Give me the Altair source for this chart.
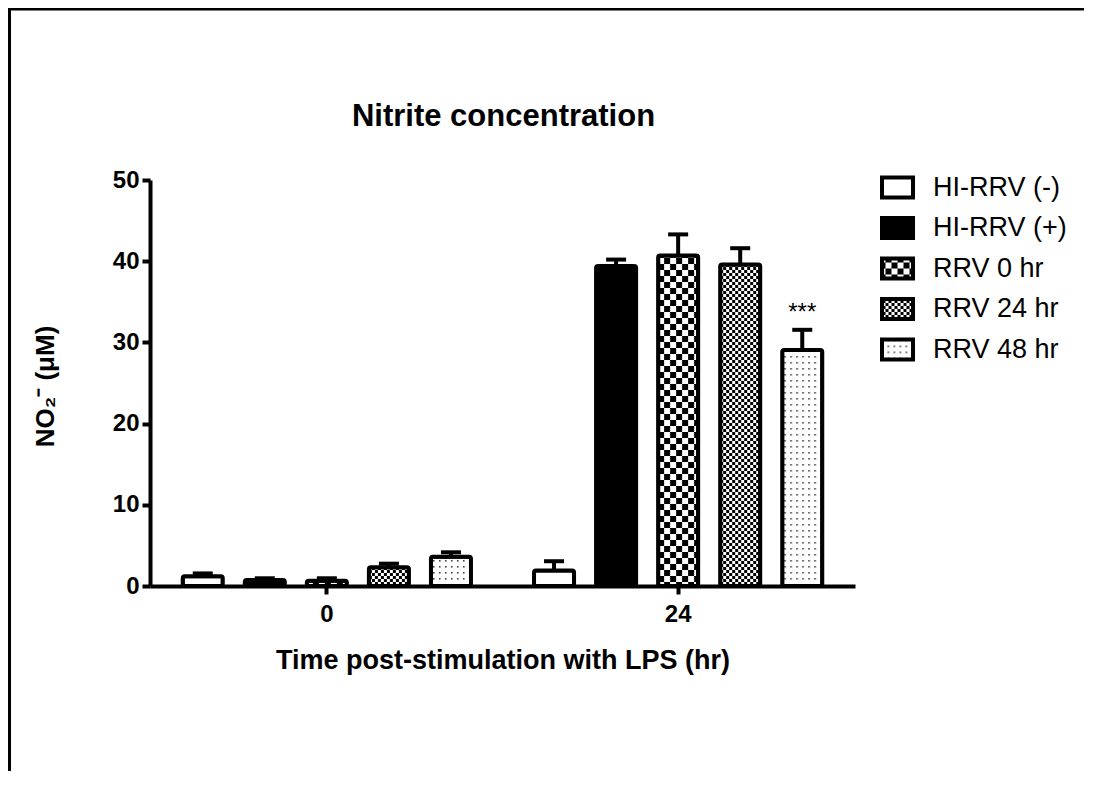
import altair as alt
import pandas as pd
import jinja2

# ---------------- data ----------------
groups = ["HI-RRV (-)", "HI-RRV (+)", "RRV 0 hr", "RRV 24 hr", "RRV 48 hr"]
times = ["0", "24"]
mean_0 = [1.2, 0.75, 0.65, 2.3, 3.6]
sem_0 = [0.35, 0.2, 0.3, 0.45, 0.55]
mean_24 = [1.9, 39.4, 40.7, 39.6, 29.05]
sem_24 = [1.15, 0.8, 2.6, 2.0, 2.5]
sig_time = ["24"]
sig_group = ["RRV 48 hr"]
sig_label = ["***"]
y_ticks = [0, 10, 20, 30, 40, 50]
fills = ["white", "black", "url(#chkBig)", "url(#chkSmall)", "url(#dots)"]
chart_title = ["Nitrite concentration"]

rows = []
for t, means, sems in [("0", mean_0, sem_0), ("24", mean_24, sem_24)]:
    for g, m, s in zip(groups, means, sems):
        rows.append({"time": t, "group": g, "mean": m, "upper": m + s})
df = pd.DataFrame(rows)
sig_df = df.merge(pd.DataFrame({"time": sig_time, "group": sig_group, "label": sig_label}),
                  on=["time", "group"])
frame_df = pd.DataFrame({"k": [0]})
title_df = pd.DataFrame({"t": chart_title})

W, H = 705, 406
FONT = "Liberation Sans"

x_enc = alt.X("time:N", sort=times,
              scale=alt.Scale(paddingInner=0.1795, paddingOuter=0.0932),
              title="Time post-stimulation with LPS (hr)")
xo_enc = alt.XOffset("group:N", sort=groups,
                     scale=alt.Scale(paddingInner=0.355, paddingOuter=0))
y_title = "NO₂⁻ (μM)"

bars = alt.Chart(df).mark_bar(stroke="black", strokeWidth=4, cornerRadius=2).encode(
    x=x_enc,
    xOffset=xo_enc,
    y=alt.Y("mean:Q", scale=alt.Scale(domain=[0, 50], nice=False),
            axis=alt.Axis(values=y_ticks), title=y_title),
    fill=alt.Fill("group:N", sort=groups,
                  scale=alt.Scale(domain=groups, range=fills),
                  legend=alt.Legend(title=None, orient="none", legendX=730, legendY=-10,
                                    symbolType="M-1,-0.645H1V0.645H-1Z",
                                    symbolSize=961, symbolStrokeColor="black",
                                    symbolStrokeWidth=4, labelFont=FONT, labelFontSize=27,
                                    labelColor="black", labelOffset=18, rowPadding=3.5,
                                    padding=0)),
)

err = alt.Chart(df).mark_rule(color="black", strokeWidth=4).encode(
    x=alt.X("time:N", sort=times, title="Time post-stimulation with LPS (hr)"),
    xOffset=alt.XOffset("group:N", sort=groups),
    y=alt.Y("mean:Q", title=y_title),
    y2="upper:Q",
)

caps = alt.Chart(df).mark_tick(color="black", thickness=4, size=20, orient="horizontal",
                               opacity=1).encode(
    x=alt.X("time:N", sort=times, title="Time post-stimulation with LPS (hr)"),
    xOffset=alt.XOffset("group:N", sort=groups),
    y=alt.Y("upper:Q", title=y_title),
)

sig = alt.Chart(sig_df).mark_text(font=FONT, fontSize=24, color="black",
                                  baseline="alphabetic", dy=-10).encode(
    x=alt.X("time:N", sort=times, title="Time post-stimulation with LPS (hr)"),
    xOffset=alt.XOffset("group:N", sort=groups),
    y=alt.Y("upper:Q", title=y_title),
    text="label:N",
)

title_mark = alt.Chart(title_df).mark_text(
    font=FONT, fontSize=31, fontWeight="bold", color="black",
    align="center", baseline="alphabetic").encode(
    x=alt.value(W / 2 + 1), y=alt.value(-54), text="t:N")

left_line = alt.Chart(frame_df).mark_rule(color="black", strokeWidth=3).encode(
    x=alt.value(-140.5), y=alt.value(-172), y2=alt.value(H + 190))
top_line = alt.Chart(frame_df).mark_rule(color="black", strokeWidth=3).encode(
    x=alt.value(-142), x2=alt.value(W + 232), y=alt.value(-171))

chart = alt.layer(bars, err, caps, sig, title_mark, left_line, top_line).properties(
    width=W, height=H,
    autosize=alt.AutoSizeParams(type="none"),
    padding={"left": 142, "top": 172, "right": 229, "bottom": 185},
).configure_view(stroke=None).configure_axis(
    domainColor="black", domainWidth=4, tickColor="black", tickWidth=4, tickSize=8,
    labelFont=FONT, labelFontSize=24, labelFontWeight="bold", labelColor="black",
    titleFont=FONT, titleFontWeight="bold", titleColor="black", grid=False,
).configure_axisX(
    labelAngle=0, labelPadding=8, titleFontSize=27, titleY=74, titleBaseline="middle",
).configure_axisY(
    labelPadding=3, titleFontSize=26, titleX=-105, titleY=206, titleBaseline="middle",
    titleAlign="center",
)

TEMPLATE = jinja2.Template("""<!DOCTYPE html>
<html>
<head>
  <meta charset="utf-8">
  <style>
    #{{ output_div }}.vega-embed { width: 100%; display: flex; }
    #{{ output_div }}.vega-embed details,
    #{{ output_div }}.vega-embed details summary { position: relative; }
  </style>
  <script type="text/javascript" src="{{ base_url }}/vega@{{ vega_version }}"></script>
  <script type="text/javascript" src="{{ base_url }}/vega-lite@{{ vegalite_version }}"></script>
  <script type="text/javascript" src="{{ base_url }}/vega-embed@{{ vegaembed_version }}"></script>
</head>
<body>
  <svg width="0" height="0" style="position:absolute;left:0;top:0" aria-hidden="true">
    <defs>
      <pattern id="chkBig" width="12" height="12" patternUnits="userSpaceOnUse">
        <rect width="12" height="12" fill="white"/>
        <rect width="6" height="6" fill="black"/>
        <rect x="6" y="6" width="6" height="6" fill="black"/>
      </pattern>
      <pattern id="chkSmall" width="6" height="6" patternUnits="userSpaceOnUse">
        <rect width="6" height="6" fill="white"/>
        <rect width="3" height="3" fill="black"/>
        <rect x="3" y="3" width="3" height="3" fill="black"/>
      </pattern>
      <pattern id="dots" width="6" height="6" patternUnits="userSpaceOnUse">
        <rect width="6" height="6" fill="white"/>
        <rect x="2" y="2" width="1.6" height="1.6" fill="#444"/>
      </pattern>
    </defs>
  </svg>
  <div id="{{ output_div }}"></div>
  <script type="text/javascript">
    (function(vegaEmbed) {
      var spec = {{ spec }};
      var embedOpt = {{ embed_options }};
      function showError(el, error){
        el.innerHTML = '<div style="color:red;"><p>JavaScript Error: ' + error.message + '</p></div>';
        throw error;
      }
      const el = document.getElementById('{{ output_div }}');
      vegaEmbed("#{{ output_div }}", spec, embedOpt).catch(error => showError(el, error));
    })(vegaEmbed);
  </script>
</body>
</html>
""")

chart.save("out.html", embed_options={"renderer": "svg", "actions": False}, template=TEMPLATE)
